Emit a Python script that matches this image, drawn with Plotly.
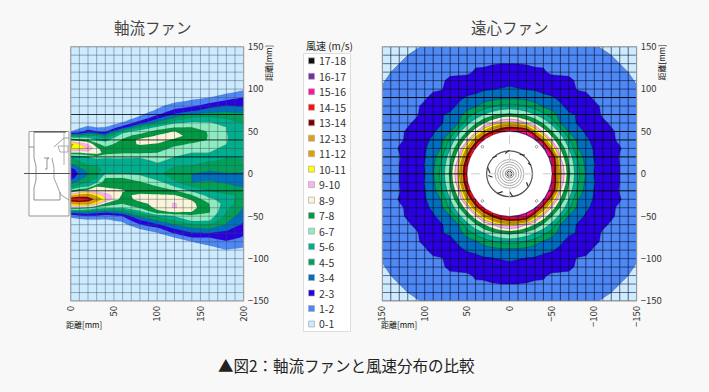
import plotly.graph_objects as go

W, H = 709, 392
BG = "#F8F8F8"
FONT = "Noto Sans CJK JP"

# ---------- legend data ----------
legend_labels = ["17-18", "16-17", "15-16", "14-15", "13-14", "12-13", "11-12", "10-11", "9-10",
                 "8-9", "7-8", "6-7", "5-6", "4-5", "3-4", "2-3", "1-2", "0-1"]
band_colors = ["#CCEBFF", "#4D88F5", "#2A00E0", "#0070BE", "#00A25A", "#00B08C", "#8DEBC0", "#009A40",
               "#FBF5D8", "#FFB0F0", "#FFFF00", "#E0A000", "#E0A010", "#800000", "#FF1010", "#FF10A0",
               "#7030A0", "#101010"]

# ---------- axial fan: air speed (m/s) ----------
axial_x = [0, 10, 20, 30, 40, 60, 80, 100, 120, 140, 160, 180, 200]
axial_y = [100, 95, 90, 85, 80, 75, 70, 65, 60, 55, 50, 45, 40, 35, 30, 25, 20, 15, 10, 5, 0,
           -5, -10, -15, -20, -25, -30, -35, -40, -45, -50, -55, -60, -65, -70, -75, -80, -85, -90, -95, -100]
ax_000 = [.5,.5,.5,.5,.5,.5,.5,.5,.5,.5,1,4.5,8,11.5,11,8,5,4.5,3.5,2.5,2.2,2.6,3.5,4.5,6.5,10,14.5,11.5,8,3.5,1.2,.5,.5,.5,.5,.5,.5,.5,.5,.5,.5]
ax_010 = [.5,.5,.5,.5,.5,.5,.5,.5,.5,.8,1.5,4.5,7.5,10,10.5,8,5.5,5,4.5,3.5,3.2,3.5,4.5,5.5,8,11.5,15,12,8,4,1.5,.7,.5,.5,.5,.5,.5,.5,.5,.5,.5]
ax_020 = [.5,.5,.5,.5,.5,.5,.5,.5,.5,1.2,2.5,5,7,9,10,8.5,6,5.2,5,4.5,4,4.4,5,6,8.5,12,14.2,12,7.5,4,1.8,.8,.5,.5,.5,.5,.5,.5,.5,.5,.5]
ax_030 = [.5,.5,.5,.5,.5,.5,.5,.5,.5,.95,2,5,6,7.3,8.3,8.8,6.5,5.3,5,4.9,4.8,5,5.8,8,8.5,10.5,12.5,10,6.5,3.5,1.8,.8,.5,.5,.5,.5,.5,.5,.5,.5,.5]
ax_040 = [.5,.5,.5,.5,.5,.5,.5,.5,.5,1,1.8,4,5.7,6.5,7.3,7.4,6.3,5.3,5.1,5.1,6,7,7.6,7.9,8.4,9.5,10.2,8,6.3,3.3,1.5,.8,.5,.5,.5,.5,.5,.5,.5,.5,.5]
ax_060 = [.5,.5,.5,.5,.5,.5,.5,.5,1.1,2.4,5.5,6.7,7.1,7.6,7.4,7.1,6.3,5.5,5.2,5.4,6,7,7.4,7.9,8.05,7.9,7.4,7.05,6,4,2,1.2,.6,.5,.5,.5,.5,.5,.5,.5,.5]
ax_080 = [.5,.5,.5,.5,.5,.5,.8,1.4,2.6,5,6.5,7.3,8.3,8.1,7.6,7.1,6.2,5.5,5.3,5.4,5.8,6.5,7.1,7.5,7.8,8.1,8.4,7.7,7.1,5.5,4.2,2.9,1.9,1,.6,.5,.5,.5,.5,.5,.5]
ax_100 = [.5,.5,.5,.6,.8,1.1,1.8,3,4.4,6.2,7.4,8.1,8.5,7.9,7.4,7,6.6,6.2,5.7,5.2,5.2,5.6,6.4,7,7.6,8.1,8.5,8.4,8.3,7.7,5.3,4,2.8,1.6,.9,.6,.5,.5,.5,.5,.5]
ax_120 = [.5,.5,.6,.9,1.4,2.2,3.2,4.3,5.9,6.9,8.05,8.5,7.8,7.2,6.8,6.3,6,5.6,5.05,4.9,4.7,4.8,5.2,6,7.1,8.05,8.5,9.1,9.1,8.1,6,5,3.95,3,2.1,1,.7,.5,.5,.5,.5]
ax_140 = [.5,.5,.8,1.15,1.85,2.7,4.2,5.4,6.2,7,7.3,7.5,7.3,6.9,6.4,6,5.6,5.3,5.05,4.6,4,4,4,5,5.8,7,7.9,8.3,8.4,8,6.6,6.2,5,3.7,2.9,2,1,.7,.5,.5,.5]
ax_160 = [.5,.7,1,1.7,2.6,3.5,4.4,5.5,6.1,6.5,6.95,6.95,6.95,6.7,6.4,6,5.6,5.05,4.6,4.2,3.6,3.9,4.1,4.5,5,5.5,6.3,7,7.1,7.1,6.6,6.1,5,4,3,2,1.4,.95,.7,.5,.5]
ax_180 = [.6,.95,1.5,2.3,3.1,3.75,4.4,5,5.7,6,6,6.05,6.05,6,5.6,5.3,5.05,4.9,4.7,4.4,3.9,3.5,3.9,4.3,4.7,5.1,5.4,5.5,5.3,5,4.7,4.2,3.9,3.2,2.8,2.4,1.9,1.4,.95,.6,.5]
ax_200 = [.9,1.3,2,2.4,2.9,3.7,4.2,4.6,4.95,4.95,5.1,5.4,5.5,5.4,5.3,5.2,5.1,4.9,4.5,4.2,3.9,3.7,3.6,3.9,4.5,4.9,4.6,4.3,3.95,3.7,3.4,3.1,2.8,2.5,2.2,1.9,1.6,1.1,.85,.6,.5]
axial_cols = [ax_000, ax_010, ax_020, ax_030, ax_040, ax_060, ax_080, ax_100, ax_120, ax_140, ax_160, ax_180, ax_200]

# ---------- centrifugal fan: air speed (m/s) in one quadrant, 10 mm grid ----------
radial_pos = [0, 10, 20, 30, 40, 50, 60, 70, 80, 90, 100, 110, 120, 130, 140, 150]
q_00 = [17,17,17,17,17,15.5,10.5,7.25,5.35,3.95,2.95,2.7,2.35,2,1.8,1.6]
q_01 = [17,17,17,17,17,15,10.1,7.05,5.25,3.75,3.05,2.65,2.35,2,1.8,1.6]
q_02 = [17,17,17,17,17,13.5,8.95,6.65,4.9,3.6,2.95,2.6,2.3,1.95,1.8,1.6]
q_03 = [17,17,17,17,15.5,11.35,8,6,4.1,3.45,2.9,2.55,2.2,2.05,1.75,1.55]
q_04 = [17,17,17,15.5,12.2,8.75,6.8,5.25,3.85,3.2,2.75,2.45,2.1,1.9,1.7,1.5]
q_05 = [15.5,15,13.5,11.35,8.75,7.05,5.65,3.95,3.5,2.85,2.6,2.3,2.1,1.85,1.65,1.45]
q_06 = [10.5,10.1,8.95,8,6.8,5.65,4,3.6,2.9,2.75,2.45,2.15,1.9,1.75,1.6,1.4]
q_07 = [7.25,7.05,6.65,6,5.25,4.5,3.6,3.15,2.95,2.55,2.3,1.9,1.85,1.65,1.5,1.35]
q_08 = [5.35,5.25,4.9,4.5,3.85,3.5,3.2,2.65,2.55,2.35,2.15,1.9,1.75,1.55,1.4,1.25]
q_09 = [3.7,3.75,3.6,3.45,3.2,3.1,2.75,2.55,2.35,2.2,1.9,1.8,1.6,1.5,1.3,1.15]
q_10 = [3.15,3.05,2.95,2.9,2.75,2.6,2.45,2.3,1.95,1.9,1.8,1.65,1.5,1.35,1.2,1.05]
q_11 = [2.7,2.65,2.6,2.55,2.45,2.3,2.15,2.15,1.9,1.8,1.65,1.5,1.4,1.25,1.1,.95]
q_12 = [2.35,2.35,2.3,2.2,2.1,1.85,1.9,1.85,1.75,1.6,1.5,1.4,1.25,1.1,1,.85]
q_13 = [2,2,1.95,1.85,1.9,1.85,1.75,1.65,1.55,1.5,1.35,1.25,1.1,1,.85,.75]
q_14 = [1.8,1.8,1.8,1.75,1.7,1.65,1.6,1.5,1.4,1.3,1.2,1.1,1,.85,.75,.65]
q_15 = [1.6,1.6,1.6,1.55,1.5,1.45,1.4,1.35,1.25,1.15,1.05,.95,.85,.75,.65,.5]
quadrant = [q_00, q_01, q_02, q_03, q_04, q_05, q_06, q_07, q_08, q_09, q_10, q_11, q_12, q_13, q_14, q_15]
# faster air at the lower right of the hub
patch_x = [-50, -50, -40, -30, -20, -10, 0]
patch_y = [-10, -20, -30, -40, -50, -50, -50]
patch_v = [16, 15.5, 17, 17, 15.5, 16, 16]

# ---------- texts and ticks ----------
title_axial = "軸流ファン"
title_radial = "遠心ファン"
caption = "▲図2：軸流ファンと風速分布の比較"
legend_title = "風速 (m/s)"
axis_label = "距離[mm]"
y_ticks = [150, 100, 50, 0, -50, -100, -150]
x_ticks_axial = [0, 50, 100, 150, 200]
x_ticks_radial = [150, 100, 50, 0, -50, -100, -150]
strong_h_axial = [70, 40, 20, 0, -20]
strong_h_radial = [90, 70, 50, 40, 20, 0, -20]

# ---------- build grids ----------
z_ax = [[0.5] * len(axial_x)]
for i in range(len(axial_y)):
    z_ax.append([c[i] for c in axial_cols])
z_ax.append([0.5] * len(axial_x))
z_ax = z_ax[::-1]
y_ax = [-150] + axial_y[::-1] + [150]

full_pos = [-p for p in radial_pos[:0:-1]] + radial_pos
def mirror(row):
    return row[:0:-1] + row
z_rad = [mirror(r) for r in quadrant]
z_rad = z_rad[:0:-1] + z_rad
for a, b, v in zip(patch_x, patch_y, patch_v):
    z_rad[full_pos.index(b)][full_pos.index(a)] = v

# staircase colour scale over 0..18
cs = []
for k, col in enumerate(band_colors):
    cs.append([k / 18, col])
    cs.append([(k + 1) / 18, col])

# plot rectangles in pixels
L1, R1, T, B = 70.7, 243.7, 46.7, 301.0
L2, R2 = 382.3, 636.7
def px(x): return x / W
def py(y): return 1 - y / H

fig = go.Figure()
common = dict(colorscale=cs, zmin=0, zmax=18, autocontour=False, showscale=False, hoverinfo="skip",
              contours=dict(start=0, end=18, size=1, coloring="fill", showlines=True))
fig.add_trace(go.Contour(x=axial_x, y=y_ax, z=z_ax, xaxis="x", yaxis="y",
                         line=dict(width=0.3, color="rgba(0,0,0,0.25)", smoothing=0), **common))
fig.add_trace(go.Contour(x=full_pos, y=full_pos, z=z_rad, xaxis="x2", yaxis="y2",
                         line=dict(width=0.5, color="rgba(0,0,0,0.5)", smoothing=0), **common))

shapes = []
ann = []
def grid(xref, yref, xs, ys, strong, c_x, c_y, c_s, x0, x1, y0, y1):
    for v in xs:
        shapes.append(dict(type="line", xref=xref, yref=yref, x0=v, x1=v, y0=y0, y1=y1, line=dict(color=c_x, width=1)))
    for v in ys:
        col = c_s if v in strong else c_y
        shapes.append(dict(type="line", xref=xref, yref=yref, x0=x0, x1=x1, y0=v, y1=v, line=dict(color=col, width=1)))

grid("x", "y", range(0, 201, 10), range(-150, 151, 10), strong_h_axial,
     "rgba(60,70,90,0.42)", "rgba(60,70,90,0.42)", "rgba(0,0,0,0.8)", 0, 200, -150, 150)
grid("x2", "y2", range(-150, 151, 10), range(-150, 151, 10), strong_h_radial,
     "rgba(10,10,40,0.62)", "rgba(10,10,40,0.55)", "rgba(0,0,0,0.92)", -150, 150, -150, 150)

# white hub of the centrifugal fan with its drawing
shapes.append(dict(type="circle", xref="x2", yref="y2", x0=-50, x1=50, y0=-50, y1=50,
                   fillcolor="white", line=dict(color="rgba(0,0,0,0.6)", width=0.5)))
for r, c, w in [(27, "#555", 1.2), (17, "#999", 0.8), (14, "#888", 0.7), (11, "#888", 0.7),
                (8, "#888", 0.7), (5, "#666", 0.8), (3, "#333", 1), (1, "#333", 1)]:
    shapes.append(dict(type="circle", xref="x2", yref="y2", x0=-r, x1=r, y0=-r, y1=r, line=dict(color=c, width=w)))
for a0, b0, a1, b1 in [(0, 28, 5, 24), (-18, 22, -12, 23), (26, 8, 23, 1), (25, -2, 20, -4), (14, -23, 8, -21),
                       (-4, -27, 0, -21), (-22, -15, -20, -10), (-25, 10, -22, 13), (20, 19, 15, 21)]:
    shapes.append(dict(type="line", xref="x2", yref="y2", x0=a0, y0=b0, x1=a1, y1=b1, line=dict(color="#333", width=1.2)))
shapes.append(dict(type="line", xref="x2", yref="y2", x0=-50, x1=50, y0=0, y1=0, line=dict(color="#ccc", width=1, dash="dash")))
shapes.append(dict(type="line", xref="x2", yref="y2", x0=0, x1=0, y0=-50, y1=50, line=dict(color="#ccc", width=1, dash="dash")))
for a, b in [(-32, 32), (32, 32), (-32, -32), (32, -32)]:
    shapes.append(dict(type="circle", xref="x2", yref="y2", x0=a - 1.5, x1=a + 1.5, y0=b - 1.5, y1=b + 1.5,
                       line=dict(color="#777", width=0.7)))

# side drawing of the axial fan, in pixels
def ppath(points, color="#777", width=0.8, fill=None, close=False):
    d = "M " + " L ".join(f"{px(a):.5f},{py(b):.5f}" for a, b in points) + (" Z" if close else "")
    s = dict(type="path", xref="paper", yref="paper", path=d, line=dict(color=color, width=width))
    if fill:
        s["fillcolor"] = fill
    shapes.append(s)

ppath([(29, 131.5), (69, 131.5), (69, 216), (29, 216)], "#999", 1, "white", True)
ppath([(34, 132), (66, 132)], "#333", 1)
ppath([(29, 147), (34, 147), (34, 158), (36, 166), (36, 180), (34, 188), (34, 200), (60, 200), (60, 192)], "#777")
ppath([(54, 147), (64, 138), (69, 138)], "#888")
ppath([(52, 158), (54, 168), (54, 178), (61, 195), (69, 200)], "#888")
ppath([(34, 132), (34, 147)], "#888")
ppath([(64, 132), (64, 165)], "#999")
ppath([(58, 146), (68, 146), (68, 152), (60, 152), (58, 146)], "#999")
ppath([(44, 158), (49, 158), (47, 159), (47, 169), (45, 169)], "#777")
shapes.append(dict(type="line", xref="paper", yref="paper", x0=px(24), x1=px(70), y0=py(173.5), y1=py(173.5),
                   line=dict(color="#555", width=1)))

# plot frames
for a, b in [(L1, R1), (L2, R2)]:
    shapes.append(dict(type="rect", xref="paper", yref="paper", x0=px(a), x1=px(b), y0=py(B), y1=py(T),
                       line=dict(color="#999", width=1)))

# legend panel
shapes.append(dict(type="rect", xref="paper", yref="paper", x0=px(303.5), x1=px(350.5), y0=py(331.5), y1=py(53.5),
                   fillcolor="white", line=dict(color="#ddd", width=1)))
for k, label in enumerate(legend_labels):
    yc = 60.8 + k * 15.48
    shapes.append(dict(type="rect", xref="paper", yref="paper", x0=px(308.5), x1=px(314.5), y0=py(yc + 3), y1=py(yc - 3),
                       fillcolor=band_colors[17 - k], line=dict(color="#aaa", width=0.7)))
    ann.append(dict(x=px(317), y=py(yc), xref="paper", yref="paper", text=label, showarrow=False, xanchor="left",
                    yanchor="middle", font=dict(family=FONT, size=10.5, color="#333")))

def text(x, y, s, size, color="#444", angle=0, xanchor="center"):
    ann.append(dict(x=px(x), y=py(y), xref="paper", yref="paper", text=s, showarrow=False, xanchor=xanchor,
                    yanchor="middle", textangle=angle, font=dict(family=FONT, size=size, color=color)))

text(153, 27, title_axial, 15.5)
text(510, 27, title_radial, 15.5)
text(329, 46, legend_title, 10, "#222")
text(346, 365, caption, 15.5, "#222")
text(84, 324, axis_label, 8, "#111")
text(399, 324, axis_label, 8, "#111")
text(269, 63, axis_label, 8, "#111", -90)
text(661.5, 63, axis_label, 8, "#111", -90)

tick = dict(family=FONT, size=9.5, color="#333")
def yaxis(dom_anchor):
    return dict(range=[-150, 150], domain=[py(B), py(T)], anchor=dom_anchor, side="right", tickmode="array", automargin=False,
                tickvals=y_ticks, showgrid=False, zeroline=False, ticks="", tickfont=tick, ticklabelstandoff=3)

fig.update_layout(
    width=W, height=H, autosize=False, margin=dict(l=0, r=0, t=0, b=0, pad=0, autoexpand=False),
    paper_bgcolor=BG, plot_bgcolor="white", showlegend=False,
    xaxis=dict(range=[0, 200], domain=[px(L1), px(R1)], anchor="y", tickmode="array", tickvals=x_ticks_axial,
               tickangle=-90, showgrid=False, zeroline=False, ticks="", tickfont=tick, automargin=False, ticklabelstandoff=2),
    yaxis=yaxis("x"),
    xaxis2=dict(range=[150, -150], domain=[px(L2), px(R2)], anchor="y2", tickmode="array", tickvals=x_ticks_radial,
                tickangle=-90, showgrid=False, zeroline=False, ticks="", tickfont=tick, automargin=False, ticklabelstandoff=2),
    yaxis2=yaxis("x2"),
    shapes=shapes, annotations=ann,
)
fig.write_html("out.html", config=dict(responsive=False, displayModeBar=False),
               default_width=f"{W}px", default_height=f"{H}px",
               post_script="document.body.style.margin='0';document.documentElement.style.overflow='hidden';")
